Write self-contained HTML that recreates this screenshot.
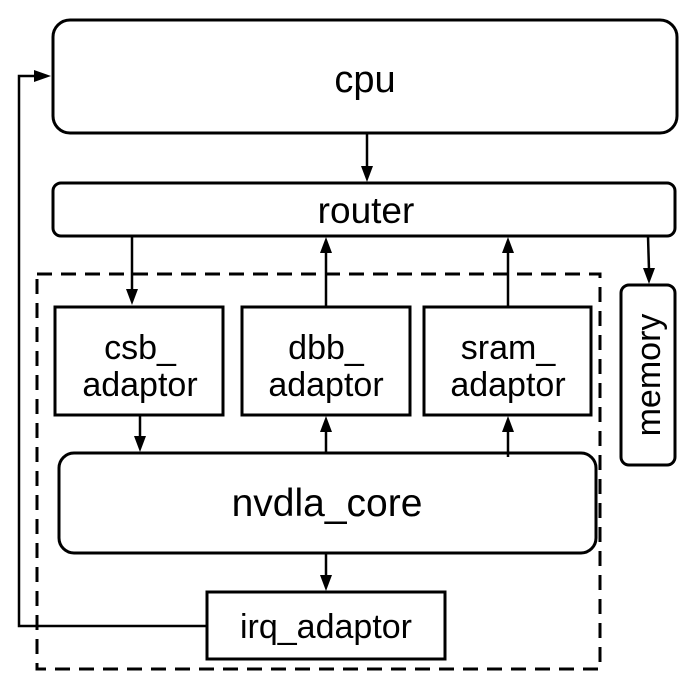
<!DOCTYPE html>
<html><head><style>body{margin:0;background:#fff}svg{display:block}</style></head><body>
<svg width="697" height="694" viewBox="0 0 697 694" xmlns="http://www.w3.org/2000/svg" font-family="Liberation Sans, Arial, sans-serif">
<g fill="none" stroke="#000" stroke-width="3">
<rect x="53" y="20" width="624" height="113" rx="17"/>
<rect x="53" y="183" width="622" height="53" rx="8"/>
<rect x="37" y="274" width="563" height="395" stroke-dasharray="15,9"/>
<rect x="55" y="307" width="168" height="108"/>
<rect x="242" y="307" width="168" height="108"/>
<rect x="424" y="307" width="167" height="108"/>
<rect x="621" y="285" width="54" height="180" rx="8"/>
<rect x="59" y="453" width="537" height="100" rx="15"/>
<rect x="207" y="592" width="238" height="67"/>
<g stroke-width="2.5">
<line x1="367" y1="133" x2="367" y2="170"/>
<line x1="132" y1="236" x2="132" y2="292"/>
<line x1="326" y1="307" x2="326" y2="250"/>
<line x1="508" y1="307" x2="508" y2="250"/>
<line x1="648" y1="236" x2="649" y2="270"/>
<line x1="140" y1="415" x2="140" y2="440"/>
<line x1="326" y1="453" x2="326" y2="430"/>
<line x1="508" y1="457" x2="508" y2="430"/>
<line x1="326" y1="553" x2="326" y2="578"/>
<polyline points="207,626 19,626 19,76 38,76"/>
</g></g>
<g fill="#000">
<polygon points="361,166 373,166 367,182"/>
<polygon points="126,289 138,289 132,305"/>
<polygon points="320,253 332,253 326,237"/>
<polygon points="502,253 514,253 508,237"/>
<polygon points="643,268 655,268 649,284"/>
<polygon points="134,436 146,436 140,452"/>
<polygon points="320,432 332,432 326,416"/>
<polygon points="502,432 514,432 508,416"/>
<polygon points="320,575 332,575 326,591"/>
<polygon points="34,70 34,82 51,76"/>
</g>
<g fill="#000" text-anchor="middle">
<text x="365" y="92" font-size="38">cpu</text>
<text x="366" y="223" font-size="37">router</text>
<text x="140" y="359" font-size="34">csb_</text>
<text x="140" y="396" font-size="34">adaptor</text>
<text x="326" y="359" font-size="34">dbb_</text>
<text x="326" y="396" font-size="34">adaptor</text>
<text x="508" y="359" font-size="34">sram_</text>
<text x="508" y="396" font-size="34">adaptor</text>
<text x="327" y="516" font-size="39">nvdla_core</text>
<text x="326" y="638" font-size="34">irq_adaptor</text>
<text transform="translate(660,375) rotate(-90)" font-size="34">memory</text>
</g>
</svg>
</body></html>
